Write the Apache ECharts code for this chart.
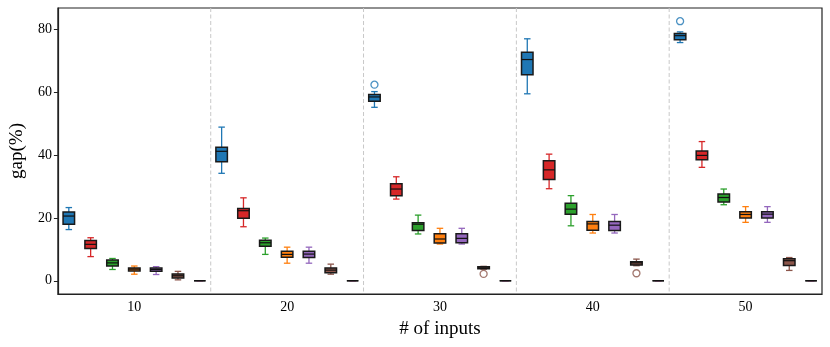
<!DOCTYPE html>
<html>
<head>
<meta charset="utf-8">
<script src="https://cdn.jsdelivr.net/npm/echarts@6/dist/echarts.min.js"></script>
<style>
  html, body { margin: 0; padding: 0; background: #fff; }
  #main { width: 830px; height: 347px; }
</style>
</head>
<body>
<div id="main"></div>
<script>
var inputs = [10, 20, 30, 40, 50];
var colors = ['#1f77b4', '#d62728', '#2ca02c', '#ff7f0e', '#9467bd', '#8c564b', '#e377c2'];

// [min, q1, median, q3, max] for each input size
var blueBox   = [[16.3, 18.0, 20.6, 21.9, 23.3], [34.2, 37.9, 41.2, 42.5, 48.9], [55.2, 57.1, 58.5, 59.3, 60.2], [59.5, 65.6, 70.4, 72.7, 77.0], [75.8, 76.7, 78.0, 78.7, 79.2]];
var redBox    = [[7.7, 10.3, 11.6, 12.8, 13.7], [17.2, 19.9, 22.3, 23.0, 26.4], [26.0, 27.1, 29.2, 30.9, 33.1], [29.3, 32.2, 35.3, 38.2, 40.3], [36.1, 38.5, 39.9, 41.3, 44.3]];
var greenBox  = [[3.6, 4.7, 5.7, 6.6, 7.1], [8.4, 11.0, 12.1, 12.9, 13.6], [14.9, 16.0, 18.0, 18.5, 20.9], [17.5, 21.2, 22.8, 24.7, 27.1], [24.2, 25.1, 26.5, 27.6, 29.2]];
var orangeBox = [[2.1, 3.1, 3.7, 4.1, 4.7], [5.6, 7.5, 8.4, 9.4, 10.7], [11.7, 12.0, 13.3, 15.0, 16.7], [15.2, 16.1, 18.1, 18.9, 21.1], [18.6, 20.0, 21.1, 22.0, 23.6]];
var purpleBox = [[2.0, 3.0, 3.6, 4.1, 4.5], [5.6, 7.4, 8.5, 9.4, 10.7], [11.7, 12.1, 13.5, 15.0, 16.7], [15.2, 16.0, 17.7, 18.9, 21.1], [18.6, 20.0, 21.2, 22.0, 23.6]];
var brownBox  = [[0.3, 0.9, 1.6, 2.2, 3.0], [2.1, 2.6, 3.4, 4.1, 5.3], [3.7, 3.8, 4.1, 4.5, 4.6], [4.8, 5.0, 5.7, 6.1, 6.9], [3.3, 4.9, 6.4, 7.0, 7.4]];
var pinkBox   = [[0, 0, 0, 0, 0], [0, 0, 0, 0, 0], [0, 0, 0, 0, 0], [0, 0, 0, 0, 0], [0, 0, 0, 0, 0]];
var methods = [blueBox, redBox, greenBox, orangeBox, purpleBox, brownBox, pinkBox];

// [input index, method index, value]
var outliers = [[2, 0, 62.4], [2, 5, 2.2], [3, 5, 2.4], [4, 0, 82.6]];

var yTicks = [0, 20, 40, 60, 80];
var nPer = methods.length;

var categories = [];
inputs.forEach(function (n) {
    for (var k = 0; k < nPer; k++) categories.push(n + '_' + k);
});

var boxData = [];
inputs.forEach(function (n, g) {
    methods.forEach(function (m, k) {
        var s = m[g];
        boxData.push([g * nPer + k, s[0], s[1], s[2], s[3], s[4], k]);
    });
});

var outlierData = outliers.map(function (o) {
    return { value: [o[0] * nPer + o[1], o[2]], itemStyle: { borderColor: colors[o[1]] } };
});

// group separators, in band units
var sepData = [];
for (var i = 1; i < inputs.length; i++) sepData.push([i * nPer]);

var font = 'Liberation Serif';
var myChart = echarts.init(document.getElementById('main'));

var option = {
    animation: false,
    grid: { left: 57, right: 8, top: 8, bottom: 53, show: true, borderColor: '#222', borderWidth: 1.2 },
    xAxis: [{
        type: 'category',
        data: categories,
        boundaryGap: true,
        name: '# of inputs',
        nameLocation: 'middle',
        nameGap: 26,
        nameTextStyle: { fontFamily: font, fontSize: 19, color: '#000' },
        axisLine: { onZero: false, lineStyle: { color: '#222', width: 1.2 } },
        axisTick: {
            alignWithLabel: true, length: 4, lineStyle: { color: '#222' },
            interval: function (idx) { return idx % nPer === 3; }
        },
        axisLabel: {
            interval: function (idx) { return idx % nPer === 3; },
            formatter: function (v) { return v.split('_')[0]; },
            fontFamily: font, fontSize: 14, color: '#000', margin: 6
        }
    }, {
        type: 'value', min: 0, max: categories.length, show: false
    }],
    yAxis: {
        type: 'value',
        min: -4.2,
        max: 86.8,
        name: 'gap(%)',
        nameLocation: 'middle',
        nameGap: 25,
        nameTextStyle: { fontFamily: font, fontSize: 19, color: '#000' },
        splitLine: { show: false },
        axisLine: { show: true, lineStyle: { color: '#222', width: 1.2 } },
        axisTick: { show: true, length: 4, customValues: yTicks, lineStyle: { color: '#222' } },
        axisLabel: { customValues: yTicks, fontFamily: font, fontSize: 14, color: '#000', margin: 6 }
    },
    series: [{
        type: 'custom',
        xAxisIndex: 1,
        data: sepData,
        z: 1,
        renderItem: function (params, api) {
            var p = api.coord([api.value(0), 0]);
            var cs = params.coordSys;
            return {
                type: 'line',
                shape: { x1: p[0], y1: cs.y, x2: p[0], y2: cs.y + cs.height },
                style: { stroke: '#c8c8c8', lineWidth: 1, lineDash: [4, 2.5] }
            };
        }
    }, {
        type: 'custom',
        data: boxData,
        encode: { x: 0, y: [1, 2, 3, 4, 5] },
        z: 3,
        renderItem: function (params, api) {
            var x = api.value(0);
            var c = colors[api.value(6)];
            var pMin = api.coord([x, api.value(1)]);
            var pQ1 = api.coord([x, api.value(2)]);
            var pMed = api.coord([x, api.value(3)]);
            var pQ3 = api.coord([x, api.value(4)]);
            var pMax = api.coord([x, api.value(5)]);
            var cx = pMin[0];
            var bw = 11.5, cw = 6.5;
            var wStyle = { stroke: c, lineWidth: 1.3 };
            return {
                type: 'group',
                children: [
                    { type: 'line', shape: { x1: cx, y1: pMin[1], x2: cx, y2: pQ1[1] }, style: wStyle },
                    { type: 'line', shape: { x1: cx, y1: pQ3[1], x2: cx, y2: pMax[1] }, style: wStyle },
                    { type: 'line', shape: { x1: cx - cw / 2, y1: pMin[1], x2: cx + cw / 2, y2: pMin[1] }, style: wStyle },
                    { type: 'line', shape: { x1: cx - cw / 2, y1: pMax[1], x2: cx + cw / 2, y2: pMax[1] }, style: wStyle },
                    {
                        type: 'rect',
                        shape: { x: cx - bw / 2, y: pQ3[1], width: bw, height: pQ1[1] - pQ3[1] },
                        style: { fill: c, stroke: '#1a1a1a', lineWidth: 1.5 }
                    },
                    { type: 'line', shape: { x1: cx - bw / 2, y1: pMed[1], x2: cx + bw / 2, y2: pMed[1] }, style: { stroke: '#111', lineWidth: 1.2 } }
                ]
            };
        }
    }, {
        type: 'scatter',
        data: outlierData,
        symbol: 'circle',
        symbolSize: 7,
        z: 4,
        itemStyle: { color: '#fff', borderWidth: 1.3 }
    }]
};

myChart.setOption(option);
</script>
</body>
</html>
